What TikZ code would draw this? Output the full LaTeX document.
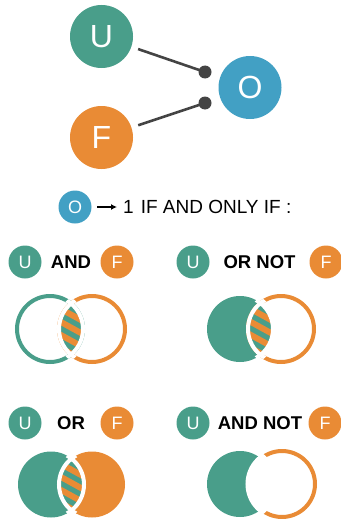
\documentclass[tikz,border=0pt]{standalone}
\usepackage{fontspec}
\setmainfont{Liberation Sans}
\usetikzlibrary{positioning, calc, arrows.meta}
\definecolor{uGreen}{RGB}{73,158,138}
\definecolor{fOrange}{RGB}{233,139,53}
\definecolor{oBlue}{RGB}{66,160,196}
\definecolor{wireGray}{RGB}{68,68,68}
\newcommand{\vr}{33pt}
% striped overlap of two circles, #1 green centre, #2 orange centre
\newcommand{\lens}[2]{%
  \begin{scope}
    \clip (#1) circle (\vr);
    \clip (#2) circle (\vr);
    \fill[uGreen] ($(#1)+(-40,-40)$) rectangle ++(120,80);
    \foreach \sy in {-78,-65,...,78}
      \draw[fOrange, line width=6pt] ($(#1)+(0,\sy)$) -- ++(100,55);
  \end{scope}
  \begin{scope}
    \clip (#2) circle (38pt);
    \draw[white, line width=4pt] (#1) circle (\vr);
  \end{scope}
  \begin{scope}
    \clip (#1) circle (38pt);
    \draw[white, line width=4pt] (#2) circle (\vr);
  \end{scope}}

\begin{document}
\begin{tikzpicture}[x=1pt, y=-1pt,
    big/.style={circle, minimum size=63pt, inner sep=0pt, text=white,
                font=\fontsize{32}{32}\selectfont},
    small/.style={circle, minimum size=33pt, inner sep=0pt, text=white,
                  font=\fontsize{18}{18}\selectfont},
    dot/.style={circle, fill=wireGray, minimum size=13pt, inner sep=0pt},
    wire/.style={draw=wireGray, line width=2.6pt, shorten <=7pt},
    op/.style={inner sep=0pt, font=\fontsize{18.5}{18.5}\selectfont\bfseries},
    ring/.style={line width=4pt},
  ]
  \useasboundingbox (0,0) rectangle (340,519);

  % neuron
  \node[big, fill=uGreen] (U) at (101.5,36.5) {U};
  \node[big, fill=fOrange] (F) at (101.5,137.5) {F};
  \node[big, fill=oBlue] (O) at (250,87.5) {O};
  \node[dot] (d1) at (205,72) {};
  \node[dot] (d2) at (205,103) {};
  \draw[wire] (U) -- (d1.center);
  \draw[wire] (F) -- (d2.center);

  % rule
  \node[small, fill=oBlue] (Ok) at (75,207) {O};
  \node[anchor=west, inner sep=0pt, font=\fontsize{19}{19}\selectfont] (rule)
    at (123,207) {1\hspace{7pt}IF AND ONLY IF :};
  \draw[-{Latex[length=6pt,width=6pt]}, line width=1.4pt,
        shorten <=5.5pt, shorten >=6pt] (Ok) -- (rule);

  % labels
  \node[small, fill=uGreen] (U1) at (25,262) {U};
  \node[op] (and) at (71,262) {AND};
  \node[small, fill=fOrange] (F1) at (117,262) {F};
  \node[small, fill=uGreen] (U2) at (193,262) {U};
  \node[op] (ornot) at (259.5,262) {OR NOT};
  \node[small, fill=fOrange] (F2) at (326,262) {F};
  \node[small, fill=uGreen] (U3) at (25,423) {U};
  \node[op] (or) at (71,423) {OR};
  \node[small, fill=fOrange] (F3) at (117,423) {F};
  \node[small, fill=uGreen] (U4) at (193,423) {U};
  \node[op] (andnot) at (260,423) {AND NOT};
  \node[small, fill=fOrange] (F4) at (325,423) {F};

  % AND
  \coordinate (g1) at (50,329);
  \coordinate (o1) at (92,329);
  \draw[ring, uGreen] (g1) circle (\vr);
  \draw[ring, fOrange] (o1) circle (\vr);
  \lens{g1}{o1}

  % OR NOT
  \coordinate (g2) at (240,329);
  \coordinate (o2) at (281,329);
  \fill[uGreen] (g2) circle (\vr);
  \draw[ring, fOrange] (o2) circle (\vr);
  \lens{g2}{o2}

  % OR
  \coordinate (g3) at (51,484.5);
  \coordinate (o3) at (92,484.5);
  \fill[uGreen] (g3) circle (\vr);
  \fill[fOrange] (o3) circle (\vr);
  \lens{g3}{o3}

  % AND NOT
  \coordinate (g4) at (240,484);
  \coordinate (o4) at (282,484);
  \fill[uGreen] (g4) circle (\vr);
  \fill[white] (o4) circle (\vr);
  \draw[ring, fOrange] (o4) circle (\vr);
  \begin{scope}
    \clip (g4) circle (38pt);
    \draw[white, line width=7pt] (o4) circle (\vr);
  \end{scope}
\end{tikzpicture}
\end{document}
